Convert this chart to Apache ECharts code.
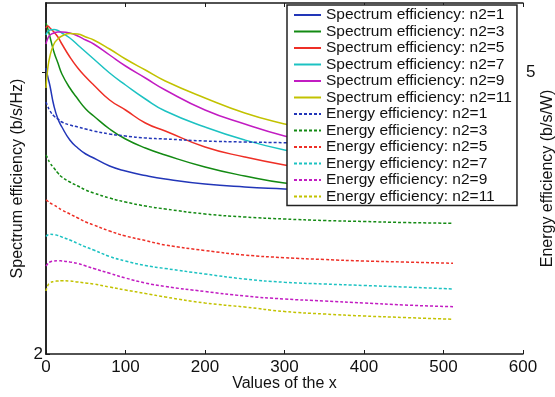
<!DOCTYPE html>
<html>
<head>
<meta charset="utf-8">
<script src="https://cdn.jsdelivr.net/npm/echarts@6/dist/echarts.min.js"></script>
<style>
  html, body { margin: 0; padding: 0; background: #fff; }
  #chart { width: 555px; height: 397px; }
</style>
</head>
<body>
<div id="chart"></div>
<script>
// x samples shared by every curve
const xValues = [0, 2, 5, 10, 15, 20, 30, 40, 50, 60, 80, 100, 125, 150, 200, 250, 300, 350, 400, 450, 512]

// spectrum efficiency (left axis)
const specN1  = [4.86, 4.78, 4.68, 4.48, 4.35, 4.27, 4.14, 4.06, 4.00, 3.96, 3.88, 3.83, 3.785, 3.75, 3.70, 3.67, 3.65, 3.63, 3.61, 3.595, 3.58]
const specN3  = [5.31, 5.26, 5.17, 5.02, 4.91, 4.80, 4.66, 4.55, 4.45, 4.38, 4.25, 4.15, 4.06, 3.99, 3.87, 3.78, 3.71, 3.68, 3.65, 3.63, 3.61]
const specN5  = [5.26, 5.28, 5.26, 5.22, 5.17, 5.10, 4.97, 4.86, 4.77, 4.69, 4.54, 4.44, 4.31, 4.23, 4.07, 3.97, 3.89, 3.83, 3.78, 3.74, 3.70]
const specN7  = [5.19, 5.22, 5.24, 5.245, 5.235, 5.21, 5.16, 5.09, 5.02, 4.95, 4.81, 4.69, 4.55, 4.43, 4.27, 4.14, 4.04, 3.97, 3.92, 3.88, 3.84]
const specN9  = [5.10, 5.15, 5.19, 5.21, 5.22, 5.22, 5.21, 5.18, 5.14, 5.10, 4.99, 4.88, 4.76, 4.64, 4.44, 4.30, 4.18, 4.09, 4.02, 3.97, 3.92]
const specN11 = [4.66, 4.84, 4.98, 5.10, 5.15, 5.18, 5.205, 5.20, 5.17, 5.14, 5.05, 4.95, 4.84, 4.73, 4.56, 4.41, 4.30, 4.21, 4.14, 4.08, 4.03]

// energy efficiency (right axis)
const energyN1  = [4.70, 4.66, 4.61, 4.56, 4.53, 4.50, 4.47, 4.45, 4.43, 4.41, 4.38, 4.36, 4.34, 4.33, 4.31, 4.30, 4.293, 4.285, 4.28, 4.275, 4.27]
const energyN3  = [4.17, 4.14, 4.09, 4.04, 3.99, 3.95, 3.90, 3.86, 3.82, 3.79, 3.74, 3.70, 3.66, 3.63, 3.58, 3.55, 3.53, 3.515, 3.505, 3.495, 3.487]
const energyN5  = [3.72, 3.71, 3.69, 3.67, 3.645, 3.62, 3.58, 3.54, 3.50, 3.47, 3.41, 3.36, 3.315, 3.27, 3.215, 3.17, 3.143, 3.125, 3.11, 3.10, 3.087]
const energyN7  = [3.355, 3.37, 3.377, 3.375, 3.365, 3.35, 3.32, 3.285, 3.25, 3.22, 3.155, 3.11, 3.065, 3.035, 2.98, 2.93, 2.897, 2.88, 2.865, 2.85, 2.83]
const energyN9  = [3.06, 3.08, 3.10, 3.11, 3.113, 3.11, 3.10, 3.085, 3.06, 3.035, 2.987, 2.94, 2.89, 2.855, 2.805, 2.76, 2.73, 2.71, 2.69, 2.67, 2.653]
const energyN11 = [2.81, 2.86, 2.89, 2.905, 2.91, 2.913, 2.91, 2.90, 2.89, 2.88, 2.85, 2.82, 2.785, 2.75, 2.69, 2.65, 2.605, 2.58, 2.56, 2.545, 2.527]

const xTicks = [0, 100, 200, 300, 400, 500, 600]
const leftTicks = [2]
const rightTicks = [5]

const n2Labels = ['1', '3', '5', '7', '9', '11']
const specSeries = [specN1, specN3, specN5, specN7, specN9, specN11]
const energySeries = [energyN1, energyN3, energyN5, energyN7, energyN9, energyN11]

const COLORS = ['#2236b8', '#138a13', '#ee2f26', '#1cc2c2', '#c21cc2', '#c2c200']
const FONT = '"Liberation Sans", Arial, sans-serif'
const AXIS = '#1a1a1a'

const zip = ys => xValues.map((x, i) => [x, ys[i]])

const series = []
specSeries.forEach((ys, i) => series.push({
  name: 'Spectrum efficiency: n2=' + n2Labels[i],
  type: 'line',
  yAxisIndex: 0,
  data: zip(ys),
  smooth: 0.5,
  symbol: 'none',
  lineStyle: { color: COLORS[i], width: 1.5 },
  itemStyle: { color: COLORS[i] },
}))
energySeries.forEach((ys, i) => series.push({
  name: 'Energy efficiency: n2=' + n2Labels[i],
  type: 'line',
  yAxisIndex: 1,
  data: zip(ys),
  smooth: 0.5,
  symbol: 'none',
  lineStyle: { color: COLORS[i], width: 1.5, type: [3, 2] },
  itemStyle: { color: COLORS[i] },
}))

const chart = echarts.init(document.getElementById('chart'), null, { renderer: 'canvas' })
chart.setOption({
  backgroundColor: '#fff',
  animation: false,
  textStyle: { fontFamily: FONT },
  grid: { left: 46, right: 32, top: 3, bottom: 43, containLabel: false, outerBoundsMode: 'none' },
  legend: {
    orient: 'vertical',
    left: 287,
    top: 5,
    padding: [2, 5, 1, 6],
    itemWidth: 27,
    itemHeight: 10,
    itemGap: 0.5,
    backgroundColor: '#fff',
    borderColor: '#222',
    borderWidth: 1.5,
    borderRadius: 0,
    itemStyle: { opacity: 0 },
    textStyle: { fontFamily: FONT, fontSize: 15.5, color: '#111', lineHeight: 16 },
    data: series.map(s => s.name),
  },
  xAxis: [
    {
      type: 'value',
      min: 0, max: 600, interval: 100,
      name: 'Values of the x',
      nameLocation: 'middle',
      nameGap: 22,
      nameMoveOverlap: false,
      nameTextStyle: { fontFamily: FONT, fontSize: 16, color: '#111' },
      axisLine: { show: true, lineStyle: { color: AXIS, width: 1.5 } },
      axisTick: { show: true, inside: true, length: 4, lineStyle: { color: AXIS } },
      axisLabel: { customValues: xTicks, margin: 5, fontFamily: FONT, fontSize: 17, color: '#111' },
      splitLine: { show: false },
    },
    {
      type: 'value',
      position: 'top',
      min: 0, max: 600, interval: 100,
      axisLine: { show: true, lineStyle: { color: AXIS, width: 1.5 } },
      axisTick: { show: true, inside: true, length: 4, lineStyle: { color: AXIS } },
      axisLabel: { show: false },
      splitLine: { show: false },
    },
  ],
  yAxis: [
    {
      type: 'value',
      min: 2, max: 5.51,
      name: 'Spectrum efficiency (b/s/Hz)',
      nameLocation: 'middle',
      nameGap: 20,
      nameMoveOverlap: false,
      nameTextStyle: { fontFamily: FONT, fontSize: 16, color: '#111' },
      axisLine: { show: true, lineStyle: { color: AXIS, width: 1.5 } },
      axisTick: { show: true, inside: true, length: 4, customValues: leftTicks, lineStyle: { color: AXIS } },
      axisLabel: { customValues: leftTicks, margin: 3, fontFamily: FONT, fontSize: 17, color: '#111' },
      splitLine: { show: false },
    },
    {
      type: 'value',
      position: 'right',
      min: 2.18, max: 5.69,
      name: 'Energy efficiency (b/s/W)',
      nameLocation: 'middle',
      nameGap: 17,
      nameMoveOverlap: false,
      nameTextStyle: { fontFamily: FONT, fontSize: 16, color: '#111' },
      axisLine: { show: true, lineStyle: { color: AXIS, width: 1.5 } },
      axisTick: { show: true, inside: true, length: 4, customValues: rightTicks, lineStyle: { color: AXIS } },
      axisLabel: { customValues: rightTicks, margin: 3, fontFamily: FONT, fontSize: 17, color: '#111' },
      splitLine: { show: false },
    },
  ],
  series,
})
</script>
</body>
</html>
